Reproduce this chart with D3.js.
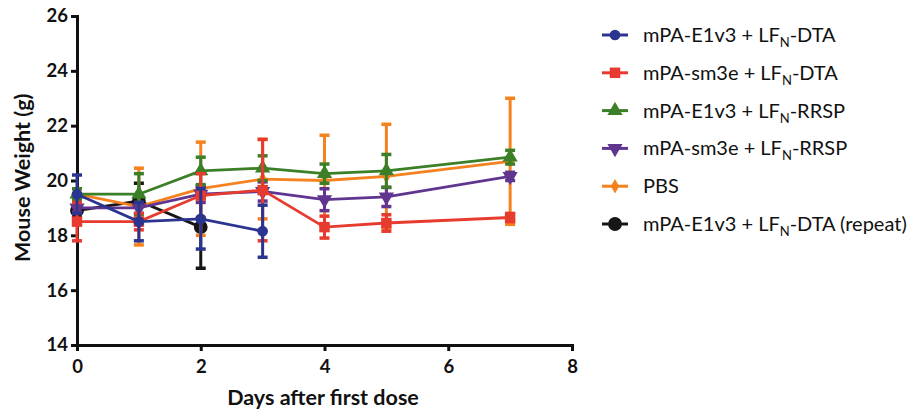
<!DOCTYPE html>
<html>
<head>
<meta charset="utf-8">
<script src="https://cdn.jsdelivr.net/npm/d3@7"></script>
<style>
  html, body { margin: 0; padding: 0; background: #fff; }
  svg text { font-family: Lato, "Open Sans", sans-serif; }
</style>
</head>
<body>
<svg id="chart" width="923" height="410"></svg>
<script>
// Days of measurement
const days = [0, 1, 2, 3, 4, 5, 7];
const daysRepeat = [0, 1, 2];

// Mean body weight (g) per group
const e1v3Dta = [19.5, 18.5, 18.6, 18.15];
const sm3eDta = [18.5, 18.5, 19.45, 19.65, 18.3, 18.45, 18.65];
const e1v3Rrsp = [19.5, 19.5, 20.35, 20.45, 20.25, 20.35, 20.85];
const sm3eRrsp = [19.0, 19.0, 19.5, 19.6, 19.3, 19.4, 20.15];
const pbs = [19.5, 19.05, 19.7, 20.05, 20.0, 20.15, 20.7];
const e1v3DtaRepeat = [18.9, 19.25, 18.3];

// Error (SD) per point
const e1v3DtaErr = [0.7, 0.7, 1.1, 0.95];
const sm3eDtaErr = [0.7, 0.3, 0.8, 1.85, 0.4, 0.3, 0.15];
const e1v3RrspErr = [0.2, 0.75, 0.5, 0.45, 0.35, 0.6, 0.25];
const sm3eRrspErr = [0.15, 0.2, 0.3, 0.35, 0.4, 0.35, 0.15];
const pbsErr = [0.2, 1.4, 1.7, 1.45, 1.65, 1.9, 2.3];
const e1v3DtaRepeatErr = [0.25, 0.65, 1.5];

// Axis ticks
const xTicks = [0, 2, 4, 6, 8];
const yTicks = [14, 16, 18, 20, 22, 24, 26];

const seriesNames = [
  ["mPA-E1v3 + LF", "N", "-DTA"],
  ["mPA-sm3e + LF", "N", "-DTA"],
  ["mPA-E1v3 + LF", "N", "-RRSP"],
  ["mPA-sm3e + LF", "N", "-RRSP"],
  ["PBS", "", ""],
  ["mPA-E1v3 + LF", "N", "-DTA (repeat)"]
];
const colors = ["#2b3590", "#e63b2e", "#3b7f26", "#5f3590", "#f5821f", "#161616"];
const symbols = [d3.symbolCircle, d3.symbolSquare, d3.symbolTriangle, d3.symbolTriangle, d3.symbolDiamond, d3.symbolCircle];
const symbolSizes = [90, 110, 100, 100, 60, 150];
const rotations = [0, 0, 0, 180, 0, 0];

const series = [
  { x: days.slice(0, 4), y: e1v3Dta, e: e1v3DtaErr },
  { x: days, y: sm3eDta, e: sm3eDtaErr },
  { x: days, y: e1v3Rrsp, e: e1v3RrspErr },
  { x: days, y: sm3eRrsp, e: sm3eRrspErr },
  { x: days, y: pbs, e: pbsErr },
  { x: daysRepeat, y: e1v3DtaRepeat, e: e1v3DtaRepeatErr }
].map((s, i) => ({ ...s, i, name: seriesNames[i], color: colors[i] }));

const svg = d3.select("#chart");

const x = d3.scaleLinear().domain([0, 8]).range([77, 572]);
const y = d3.scaleLinear().domain([14, 26]).range([345, 16]);

// Axes
const xAxis = svg.append("g").attr("transform", `translate(0,${y(14)})`)
  .call(d3.axisBottom(x).tickValues(xTicks).tickSize(6).tickPadding(9));
const yAxis = svg.append("g").attr("transform", `translate(${x(0)},0)`)
  .call(d3.axisLeft(y).tickValues(yTicks).tickSize(6).tickPadding(3));
[xAxis, yAxis].forEach(g => {
  g.select(".domain").attr("stroke", "#111").attr("stroke-width", 3);
  g.selectAll(".tick line").attr("stroke", "#111").attr("stroke-width", 3);
  g.selectAll(".tick text").attr("fill", "#111").style("font-size", "18.5px")
    .style("font-weight", "bold").style("font-family", "Lato, sans-serif");
});

// Axis titles
svg.append("text").attr("x", 323).attr("y", 405).attr("text-anchor", "middle")
  .style("font-size", "21.5px").style("font-weight", "bold").attr("fill", "#111")
  .text("Days after first dose");
svg.append("text").attr("transform", `translate(30,${y(20.1)}) rotate(-90)`)
  .attr("text-anchor", "middle")
  .style("font-size", "21.5px").style("font-weight", "bold").attr("fill", "#111")
  .text("Mouse Weight (g)");

// Draw order: back to front
const drawOrder = [5, 4, 3, 2, 1, 0];
const line = d3.line();
const capW = 5;

drawOrder.forEach(k => {
  const s = series[k];
  const g = svg.append("g");
  const pts = s.x.map((d, j) => [x(d), y(s.y[j])]);
  g.append("path").attr("d", line(pts)).attr("fill", "none")
    .attr("stroke", s.color).attr("stroke-width", 2.8);
  s.x.forEach((d, j) => {
    const cx = x(d), top = y(s.y[j] + s.e[j]), bot = y(s.y[j] - s.e[j]);
    g.append("line").attr("x1", cx).attr("x2", cx).attr("y1", top).attr("y2", bot)
      .attr("stroke", s.color).attr("stroke-width", 3);
    [top, bot].forEach(yy => g.append("line").attr("x1", cx - capW).attr("x2", cx + capW)
      .attr("y1", yy).attr("y2", yy).attr("stroke", s.color).attr("stroke-width", 3.5));
    g.append("path")
      .attr("d", d3.symbol().type(symbols[k]).size(symbolSizes[k])())
      .attr("transform", `translate(${cx},${y(s.y[j])}) rotate(${rotations[k]})`)
      .attr("fill", s.color);
  });
});

// Legend
const legend = svg.append("g");
series.forEach((s, i) => {
  const ly = 35 + i * 37.8;
  const lg = legend.append("g").attr("transform", `translate(0,${ly})`);
  lg.append("line").attr("x1", 602).attr("x2", 628).attr("y1", 0).attr("y2", 0)
    .attr("stroke", s.color).attr("stroke-width", 3);
  lg.append("path")
    .attr("d", d3.symbol().type(symbols[i]).size(symbolSizes[i])())
    .attr("transform", `translate(615,0) rotate(${rotations[i]})`)
    .attr("fill", s.color);
  const t = lg.append("text").attr("x", 643).attr("y", 7)
    .style("font-size", "20px").attr("fill", "#111");
  t.append("tspan").text(s.name[0]);
  if (s.name[1]) {
    t.append("tspan").attr("dy", 5).style("font-size", "13px").text(s.name[1]);
    t.append("tspan").attr("dy", -5).text(s.name[2]);
  }
});
</script>
</body>
</html>
